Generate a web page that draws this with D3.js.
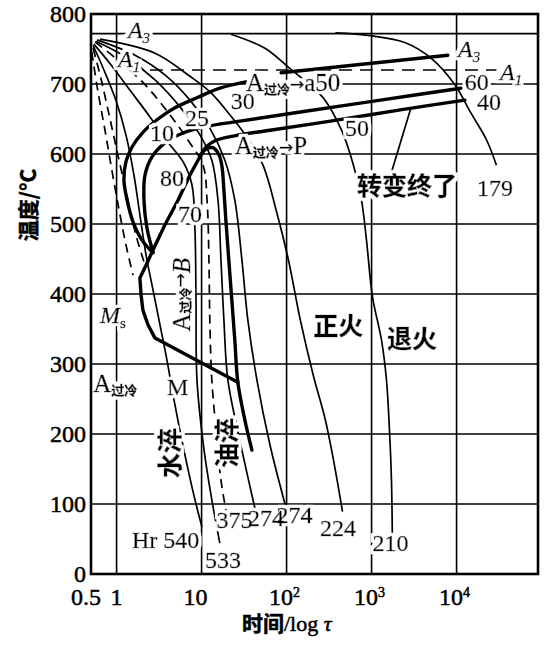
<!DOCTYPE html>
<html>
<head>
<meta charset="utf-8">
<script src="https://cdn.jsdelivr.net/npm/d3@7"></script>
<style>
  body { margin: 0; background: #fff; }
  svg text { fill: #000; }
  .num { font-family: "Liberation Serif", "DejaVu Serif", serif; font-size: 24px; }
  .cjk { font-family: "Noto Sans CJK SC", sans-serif; font-weight: 700; }
  .ink text { stroke: #000; stroke-width: 0.5px; }
  .grid { stroke: #000; stroke-width: 1.6; fill: none; }
  .cool { stroke: #000; stroke-width: 1.7; fill: none; }
  .thick { stroke: #000; stroke-width: 3.4; fill: none; stroke-linejoin: round; stroke-linecap: round; }
</style>
</head>
<body>
<div id="chart"></div>
<script>
// CCT diagram (过冷奥氏体连续冷却转变), time on log axis, temperature in °C

var yTicks = [0, 100, 200, 300, 400, 500, 600, 700, 800];
var xTicks = [0.5, 1, 10, 100, 1000, 10000];
var xTickBase = ["0.5", "1", "10", "10", "10", "10"];
var xTickSup = ["", "", "", "2", "3", "4"];
var gridTimes = [1, 10, 100, 1000, 10000];
var gridTemps = [100, 200, 300, 400, 500, 600, 700];

var tempA3 = 772;
var tempA1 = 720;
var a1Span = [2.47, 29450];

// cooling curves [time s, temp °C], named by the hardness at their end
var cool540 = [[0.53,755],[0.71,720],[0.98,677],[1.29,627],[1.6,570],[1.88,513],[2.22,456],[2.68,406],[3.24,356],[3.91,306],[4.73,249],[6.2,177],[8.1,113],[10.1,67]];
var cool533 = [[0.54,757],[0.84,729],[1.44,691],[2.47,653],[4.0,617],[6.05,589],[7.7,556],[8.36,491],[8.6,391],[8.83,277],[10.7,177],[13.2,106],[16.4,44]];
var cool375 = [[0.56,760],[1.04,734],[2.16,699],[4.0,660],[6.9,620],[10.4,584],[11.6,534],[12.2,449],[12.5,363],[13.2,277],[15.2,191],[16.9,134],[19.8,84]];
var cool274a = [[0.57,761],[1.26,739],[2.83,706],[5.6,667],[9.6,627],[13.2,591],[15.6,534],[16.9,449],[18.3,363],[20.4,277],[28.2,191],[42.4,94]];
var cool274b = [[0.59,763],[1.65,741],[3.7,713],[7.3,677],[12.5,637],[18.8,591],[24.6,534],[29.8,449],[35,363],[44.8,277],[63.9,184],[96.4,99]];
var cool224 = [[0.64,764],[2.83,744],[7.3,711],[12.5,689],[21.5,656],[34.1,624],[52.8,584],[75.3,520],[105,449],[145,363],[206,284],[286,220],[365,156],[455,89]];
var cool210 = [[22.1,771],[55.7,751],[105,724],[145,710],[206,694],[271,680],[443,634],[612,584],[761,534],[871,477],[1026,396],[1309,334],[1498,277],[1623,206],[1714,134],[1760,41]];
var cool179 = [[375,773],[959,769],[2500,759],[5000,737],[9555,699],[14670,659],[22540,620],[29450,584]];
var quenchA = [[0.51,746],[0.6,691],[0.73,634],[0.88,577],[1.07,520],[1.29,470],[1.56,427]];
var quenchB = [[0.53,751],[0.66,706],[0.84,649],[1.07,591],[1.36,534],[1.69,484],[2.1,446]];

// transformation lines
var lineA3 = [[86.4,716],[7915,741]];
var ferriteStart = [[33.2,703],[16.4,694],[9.07,681],[4.86,666],[3.07,650],[2.04,631],[1.52,610],[1.29,589],[1.22,563],[1.33,534],[1.56,503],[1.99,477],[2.68,459]];
var pearliteStart = [[11235,694],[1274,677],[145,660],[28.2,647],[11,639],[6.05,630],[3.71,616],[2.61,596],[2.16,570],[2.1,534],[2.28,494],[2.68,460]];
var pearliteEnd = [[12500,677],[2183,663],[328,647],[63.9,634],[24.6,626],[14.4,619],[11.3,610],[9.84,599]];
var bainiteMs = [[9.84,599],[7.3,570],[5.28,534],[3.71,499],[2.68,463],[2.22,441],[1.88,423],[1.94,399],[2.04,377],[2.34,356],[2.83,337],[26.7,274]];
var endLine = [[9.84,599],[11.3,607],[13.6,609],[16,599],[17.3,584],[18.3,549],[19.3,506],[20.9,449],[22.7,391],[24.6,334],[26.7,274],[32.3,220],[39.1,177]];
var leader = [[1714,574],[2908,666]];

// plain number labels [text, time, temp, font size]
var numLabels = [
  ["60", 12500, 691, 22], ["40", 17390, 663, 22], ["50", 487, 626, 24], ["179", 17390, 540, 22],
  ["30", 22.1, 664, 24], ["25", 6.38, 640, 24], ["10", 2.47, 619, 24], ["80", 3.24, 554, 24], ["70", 5.28, 503, 24],
  ["Hr 540", 1.52, 37, 24], ["533", 11.0, 9, 24], ["375", 15.0, 66, 17], ["274", 35.2, 69, 17],
  ["274", 76, 73, 21], ["224", 247, 54, 25], ["210", 1026, 33, 25], ["M", 3.91, 256, 25]
];
// chinese labels [text, time, temp, rotated]
var cjkLabels = [
  ["转变终了", 674, 541, false], ["正火", 206, 341, false], ["退火", 1518, 323, false],
  ["水淬", 4.02, 173, true], ["油淬", 18.8, 187, true]
];

var width = 550, height = 649;
var margin = {top: 14, right: 12, bottom: 75, left: 91};

var svg = d3.select("#chart").append("svg")
    .attr("width", width)
    .attr("height", height);

// white outline behind the labels, so lines stop short of them
var halo = svg.append("defs").append("filter").attr("id", "halo")
    .attr("x", "-20%").attr("y", "-20%").attr("width", "140%").attr("height", "140%");
halo.append("feMorphology").attr("in", "SourceAlpha").attr("operator", "dilate")
    .attr("radius", 2.5).attr("result", "grown");
halo.append("feFlood").attr("flood-color", "#fff");
halo.append("feComposite").attr("in2", "grown").attr("operator", "in").attr("result", "white");
var merge = halo.append("feMerge");
merge.append("feMergeNode").attr("in", "white");
merge.append("feMergeNode").attr("in", "SourceGraphic");

var x = d3.scaleLog()
    .domain([0.5, 90800])
    .range([margin.left, width - margin.right]);

var y = d3.scaleLinear()
    .domain([0, 800])
    .range([height - margin.bottom, margin.top]);

var line = d3.line()
    .x(function(d) { return x(d[0]); })
    .y(function(d) { return y(d[1]); })
    .curve(d3.curveCatmullRom.alpha(0.5));

var straight = d3.line()
    .x(function(d) { return x(d[0]); })
    .y(function(d) { return y(d[1]); });

var serif = '"Liberation Serif", "DejaVu Serif", serif';
var cjk = '"Noto Sans CJK SC", sans-serif';

// grid
svg.selectAll(".vgrid").data(gridTimes).enter().append("line")
    .attr("class", "grid")
    .attr("x1", function(d) { return x(d); }).attr("x2", function(d) { return x(d); })
    .attr("y1", y(0)).attr("y2", y(800));

svg.selectAll(".hgrid").data(gridTemps).enter().append("line")
    .attr("class", "grid")
    .attr("x1", x.range()[0]).attr("x2", x.range()[1])
    .attr("y1", function(d) { return y(d); }).attr("y2", function(d) { return y(d); });

// A3 and A1 critical points
svg.append("line").attr("class", "grid")
    .attr("x1", x.range()[0]).attr("x2", x.range()[1])
    .attr("y1", y(tempA3)).attr("y2", y(tempA3));

svg.append("line").attr("class", "grid")
    .attr("stroke-dasharray", "13,8")
    .attr("x1", x(a1Span[0])).attr("x2", x(a1Span[1]))
    .attr("y1", y(tempA1)).attr("y2", y(tempA1));

// cooling curves
[cool540, cool533, cool274a, cool274b, cool224, cool210, cool179].forEach(function(c) {
  svg.append("path").datum(c).attr("class", "cool").attr("d", line);
});
[cool375, quenchA, quenchB].forEach(function(c) {
  svg.append("path").datum(c).attr("class", "cool")
      .attr("stroke-dasharray", "9,6").attr("d", line);
});
svg.append("path").datum(leader).attr("class", "cool").attr("d", straight);

// transformation lines
[ferriteStart, pearliteStart, pearliteEnd, endLine].forEach(function(c) {
  svg.append("path").datum(c).attr("class", "thick").attr("d", line);
});
svg.append("path").datum(lineA3).attr("class", "thick").attr("d", straight);
svg.append("path").datum(bainiteMs).attr("class", "thick").attr("d", straight);

// labels inside the plot
var labels = svg.append("g").attr("class", "ink").attr("filter", "url(#halo)");

labels.selectAll(".numlab").data(numLabels).enter().append("text")
    .attr("class", "num")
    .attr("font-size", function(d) { return d[3]; })
    .attr("x", function(d) { return x(d[1]); })
    .attr("y", function(d) { return y(d[2]); })
    .text(function(d) { return d[0]; });

labels.selectAll(".cjklab").data(cjkLabels).enter().append("text")
    .attr("class", "cjk")
    .attr("font-size", 25)
    .attr("text-anchor", function(d) { return d[3] ? "middle" : "start"; })
    .attr("dominant-baseline", function(d) { return d[3] ? "central" : "auto"; })
    .attr("transform", function(d) {
      return "translate(" + x(d[1]) + "," + y(d[2]) + ")" + (d[3] ? " rotate(-90)" : "");
    })
    .text(function(d) { return d[0]; });

function critical(t, T, main, idx, plainIdx) {
  var tx = labels.append("text")
      .attr("x", x(t)).attr("y", y(T)).attr("font-family", serif);
  tx.append("tspan").attr("font-size", 24).attr("font-style", "italic").text(main);
  tx.append("tspan").attr("font-size", 15).attr("dy", 5)
      .attr("font-style", plainIdx ? "normal" : "italic").text(idx);
}
critical(1.36, 766, "A", "3");
critical(1.04, 724, "A", "1");
critical(10385, 739, "A", "3");
critical(32400, 706, "A", "1");
critical(0.64, 359, "M", "s", true);

function undercooled(t, T, product, rotated, productItalic) {
  var tx = labels.append("text")
      .attr("transform", "translate(" + x(t) + "," + y(T) + ")" + (rotated ? " rotate(-90)" : ""))
      .attr("text-anchor", rotated ? "middle" : "start");
  if (rotated) tx.attr("dominant-baseline", "central");
  tx.append("tspan").attr("font-family", serif).attr("font-size", 25).text("A");
  tx.append("tspan").attr("font-family", cjk).attr("font-weight", 700)
      .attr("font-size", 13).attr("dy", 3).text("过冷");
  if (product) {
    tx.append("tspan").attr("font-family", '"DejaVu Sans", sans-serif')
        .attr("font-size", 17).attr("dy", -4).text("→");
    tx.append("tspan").attr("font-family", serif).attr("font-size", 25)
        .attr("font-style", productItalic ? "italic" : "normal")
        .attr("dy", 1).text(product);
  }
}
undercooled(33.2, 690, "a50");
undercooled(24.6, 600, "P");
undercooled(5.73, 399, "B", true, true);
undercooled(0.53, 260, null);

// frame
svg.append("rect")
    .attr("x", x.range()[0]).attr("y", y(800))
    .attr("width", x.range()[1] - x.range()[0]).attr("height", y(0) - y(800))
    .attr("fill", "none").attr("stroke", "#000").attr("stroke-width", 2.6);

// axis tick labels
var axisText = svg.append("g").attr("class", "ink");

axisText.selectAll(".ytick").data(yTicks).enter().append("text")
    .attr("class", "num")
    .attr("x", 86).attr("y", function(d) { return y(d); })
    .attr("dy", "0.35em").attr("text-anchor", "end")
    .text(function(d) { return d; });

var xl = axisText.selectAll(".xtick").data(xTicks).enter().append("text")
    .attr("class", "num")
    .attr("font-size", 22)
    .attr("text-anchor", "middle")
    .attr("x", function(d, i) { return x(d) + [-5, 0, -6, -2, -2, -2][i]; })
    .attr("y", 605);
xl.append("tspan").text(function(d, i) { return xTickBase[i]; });
xl.append("tspan").attr("font-size", 14).attr("dy", -8)
    .text(function(d, i) { return xTickSup[i]; });

// axis titles
var xt = axisText.append("text").attr("x", 242).attr("y", 631);
xt.append("tspan").attr("class", "cjk").attr("font-size", 21).text("时间");
xt.append("tspan").attr("font-family", serif).attr("font-size", 22).text("/log ");
xt.append("tspan").attr("font-family", serif).attr("font-size", 22).attr("font-style", "italic").text("τ");

axisText.append("text")
    .attr("class", "cjk")
    .attr("font-size", 21)
    .attr("text-anchor", "middle")
    .attr("transform", "translate(27,205) rotate(-90)")
    .attr("dominant-baseline", "central")
    .text("温度/°C");
</script>
</body>
</html>
